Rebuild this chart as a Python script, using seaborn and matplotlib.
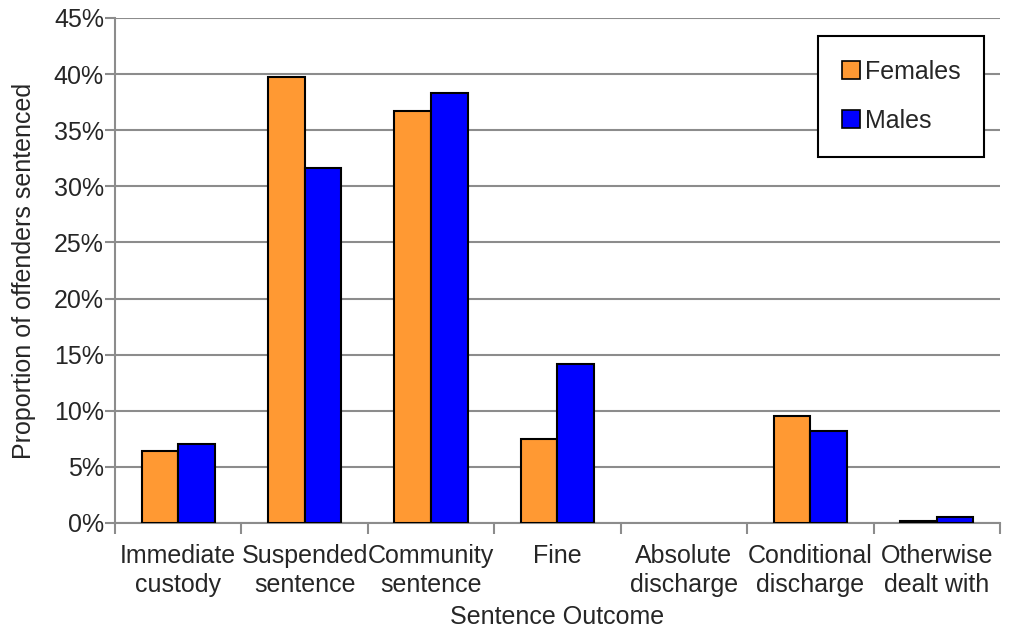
import pandas as pd
import matplotlib
matplotlib.use("Agg")
import matplotlib.pyplot as plt
import seaborn as sns
from matplotlib.ticker import FixedLocator, PercentFormatter

# data (percent of offenders sentenced)
outcomes = ["Immediate\ncustody", "Suspended\nsentence", "Community\nsentence", "Fine",
            "Absolute\ndischarge", "Conditional\ndischarge", "Otherwise\ndealt with"]
females = [6.4, 39.7, 36.7, 7.5, 0.0, 9.5, 0.2]
males = [7.0, 31.6, 38.3, 14.2, 0.0, 8.2, 0.5]
series = ["Females", "Males"]
colors = ["#FF9933", "#0000FF"]

df = pd.DataFrame({
    "Outcome": outcomes * 2,
    "Share": females + males,
    "Sex": ["Females"] * len(outcomes) + ["Males"] * len(outcomes),
})

sns.set_style("white")
plt.rcParams["font.family"] = ["Liberation Sans", "DejaVu Sans"]
fs = 18

fig = plt.figure(figsize=(10.09, 6.32), dpi=100)
ax = fig.add_axes([115 / 1009, 1 - 523 / 632, 885 / 1009, 505 / 632])

sns.barplot(data=df, x="Outcome", y="Share", hue="Sex", hue_order=series,
            palette=colors, width=0.58, edgecolor="black", linewidth=1.5,
            saturation=1, ax=ax, zorder=3)

# zero-height bars show nothing in the reference
for p in ax.patches:
    if p.get_height() == 0:
        p.set_linewidth(0)

ax.set_ylim(0, 45)
ax.set_xlim(-0.5, len(outcomes) - 0.5)
ax.set_yticks(range(0, 50, 5))
ax.yaxis.set_major_formatter(PercentFormatter(decimals=0))
ax.grid(axis="y", color="#8c8c8c", linewidth=1.5, zorder=0)
ax.set_axisbelow(True)

for s in ["top", "right"]:
    ax.spines[s].set_visible(False)
for s in ["left", "bottom"]:
    ax.spines[s].set_color("#8c8c8c")
    ax.spines[s].set_linewidth(1.5)

ax.tick_params(axis="y", which="major", length=7, width=1.5, color="#8c8c8c",
               labelsize=fs, pad=1, left=True)
ax.tick_params(axis="x", which="major", length=0, labelsize=fs, pad=15)
ax.xaxis.set_minor_locator(FixedLocator([i + 0.5 for i in range(-1, len(outcomes))]))
ax.tick_params(axis="x", which="minor", length=8, width=1.5, color="#8c8c8c",
               bottom=True, direction="out")
for lab in ax.get_xticklabels():
    lab.set_linespacing(1.25)

ax.set_xlabel("Sentence Outcome", fontsize=fs, labelpad=6)
ax.set_ylabel("Proportion of offenders sentenced", fontsize=fs, labelpad=13)

leg = ax.legend(loc="upper right", bbox_to_anchor=(984 / 1009, 1 - 36 / 632),
                bbox_transform=fig.transFigure, fontsize=fs, frameon=True,
                fancybox=False, edgecolor="black", handlelength=0.7,
                handleheight=0.7, handletextpad=0.2, labelspacing=1.0,
                borderpad=0.95, borderaxespad=0)
leg.get_frame().set_linewidth(1.5)
leg.get_frame().set_alpha(1)
for h in leg.legend_handles:
    h.set_edgecolor("black")
    h.set_linewidth(1.2)

fig.savefig("out.png", dpi=100)
